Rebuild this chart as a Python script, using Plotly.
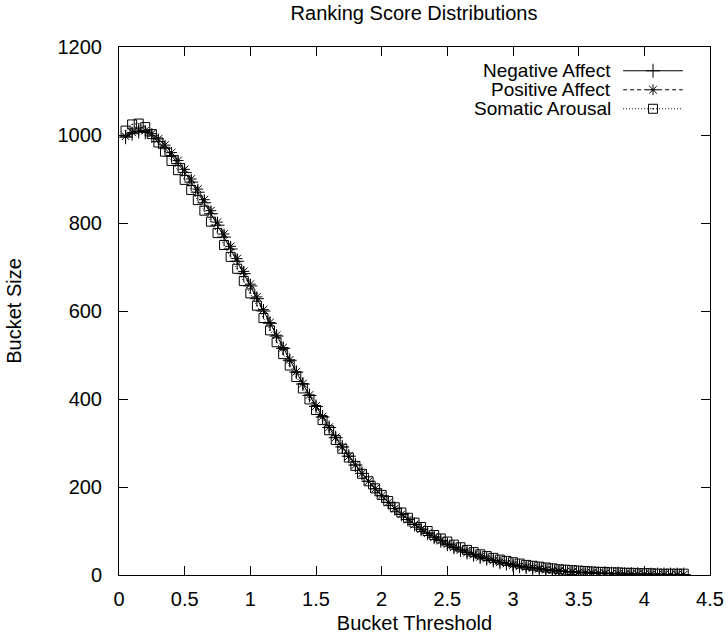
import plotly.graph_objects as go

x_vals = [round(0.05 * i, 2) for i in range(1, 87)]

negative_affect = [995, 1003, 1008, 1006, 998, 985, 970, 953, 935, 915,
                   893, 870, 846, 821, 795, 768, 741, 713, 685, 657,
                   628, 600, 572, 543, 515, 488, 461, 434, 408, 383,
                   359, 335, 312, 291, 270, 250, 231, 213, 196, 180,
                   165, 151, 138, 126, 115, 104, 95, 86, 78, 70,
                   63, 57, 51, 46, 41, 37, 33, 29, 26, 23,
                   20, 18, 16, 14, 12, 11, 9, 8, 7, 6,
                   5, 5, 4, 4, 3, 3, 2, 2, 2, 2,
                   1, 1, 1, 1, 1, 1]

positive_affect = [997, 1006, 1011, 1010, 1003, 991, 977, 960, 942, 922,
                   900, 877, 853, 828, 802, 775, 747, 719, 690, 661,
                   632, 603, 574, 545, 517, 489, 462, 435, 409, 384,
                   360, 336, 313, 291, 270, 250, 231, 213, 196, 180,
                   165, 151, 138, 126, 115, 104, 95, 86, 78, 70,
                   63, 57, 51, 46, 41, 37, 33, 29, 26, 23,
                   20, 18, 16, 14, 12, 11, 9, 8, 7, 6,
                   5, 5, 4, 4, 3, 3, 2, 2, 2, 2,
                   1, 1, 1, 1, 1, 1]

somatic_arousal = [1010, 1024, 1026, 1018, 1002, 983, 962, 941, 920, 898,
                   875, 852, 828, 803, 777, 750, 723, 696, 668, 640,
                   612, 584, 556, 529, 502, 476, 450, 424, 399, 375,
                   352, 329, 307, 287, 267, 248, 230, 213, 197, 182,
                   168, 154, 142, 130, 119, 109, 100, 91, 83, 76,
                   69, 63, 57, 52, 47, 43, 39, 35, 32, 29,
                   26, 23, 21, 19, 17, 15, 13, 12, 11, 10,
                   9, 8, 7, 7, 6, 6, 5, 5, 4, 4,
                   4, 3, 3, 3, 3, 3]

series_names = ["Negative Affect", "Positive Affect", "Somatic Arousal"]
series_values = [negative_affect, positive_affect, somatic_arousal]
x_ticks = [0, 0.5, 1, 1.5, 2, 2.5, 3, 3.5, 4, 4.5]
y_ticks = [0, 200, 400, 600, 800, 1000, 1200]

styles = [
    dict(symbol="cross-thin-open", size=10, dash="solid"),
    dict(symbol="asterisk-open", size=9, dash="4px,3px"),
    dict(symbol="square-open-dot", size=9, dash="1px,2px"),
]

FONT = "Liberation Sans, Arial, sans-serif"
FS = 20
fig = go.Figure()

for name, vals, st in zip(series_names, series_values, styles):
    fig.add_trace(go.Scatter(
        x=x_vals, y=vals, mode="lines+markers", name=name,
        line=dict(color="black", width=1, dash=st["dash"]),
        marker=dict(symbol=st["symbol"], size=st["size"], color="black",
                    line=dict(color="black", width=1)),
        showlegend=False,
    ))

# custom gnuplot-style legend (text left, sample right)
leg_y = [0.955, 0.919, 0.883]
for name, st, ly in zip(series_names, styles, leg_y):
    fig.add_trace(go.Scatter(
        x=[0.853, 0.954], y=[ly, ly], xaxis="x2", yaxis="y2", mode="lines",
        line=dict(color="black", width=1, dash=st["dash"]),
        showlegend=False, hoverinfo="skip",
    ))
    fig.add_trace(go.Scatter(
        x=[0.9036], y=[ly], xaxis="x2", yaxis="y2", mode="markers",
        marker=dict(symbol=st["symbol"], size=st["size"], color="black",
                    line=dict(color="black", width=1)),
        showlegend=False, hoverinfo="skip",
    ))
    fig.add_annotation(x=0.836, y=ly, xref="x2", yref="y2", text=name,
                       showarrow=False, xanchor="right", yanchor="middle",
                       font=dict(family=FONT, size=19, color="black"))

axis_common = dict(showline=True, linecolor="black", linewidth=1, mirror="ticks",
                   ticks="inside", ticklen=9, tickcolor="black", showgrid=False,
                   zeroline=False, automargin=False,
                   tickfont=dict(family=FONT, size=FS, color="black"))

fig.update_layout(
    width=728, height=638,
    margin=dict(l=119, r=18, t=47, b=63),
    paper_bgcolor="white", plot_bgcolor="white",
    title=dict(text="Ranking Score Distributions", x=0.5687, xanchor="center",
               y=0.979, yanchor="middle", automargin=False,
               font=dict(family=FONT, size=FS, color="black")),
    xaxis=dict(range=[0, 4.5], tickvals=x_ticks, ticktext=[str(t) for t in x_ticks],
               ticklabelstandoff=6,
               title=dict(text="Bucket Threshold", standoff=6,
                          font=dict(family=FONT, size=FS, color="black")),
               **axis_common),
    yaxis=dict(range=[0, 1200], tickvals=y_ticks, ticktext=[str(t) for t in y_ticks],
               ticklabelstandoff=12,
               title=dict(text="Bucket Size", standoff=30,
                          font=dict(family=FONT, size=FS, color="black")),
               **axis_common),
    xaxis2=dict(range=[0, 1], overlaying="x", visible=False),
    yaxis2=dict(range=[0, 1], overlaying="y", visible=False),
    showlegend=False,
)

fig.write_html("out.html")
